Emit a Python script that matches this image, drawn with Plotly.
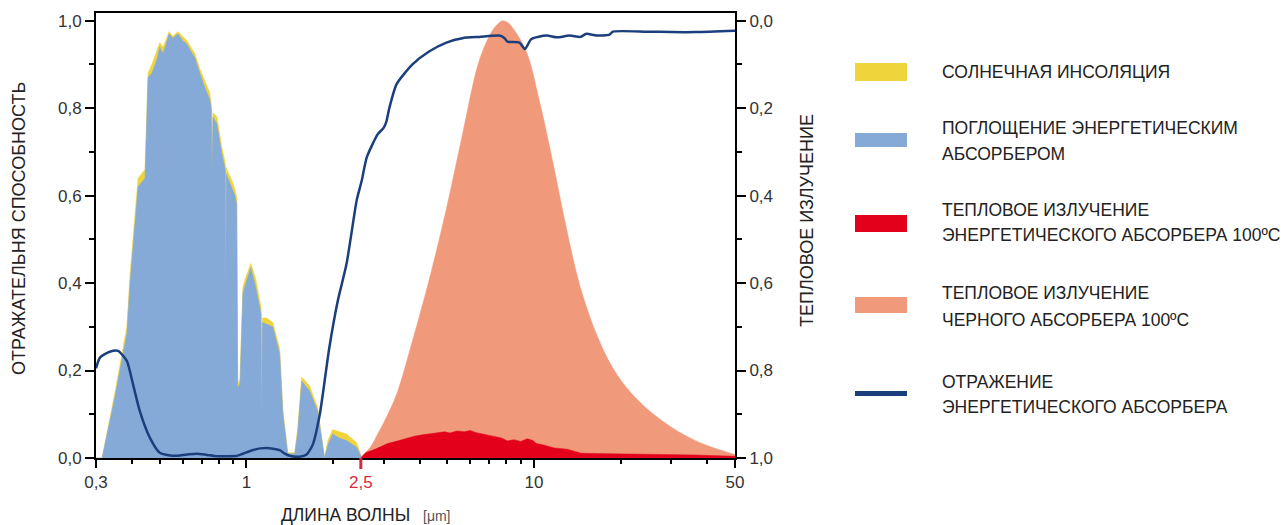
import numpy as np
import plotly.graph_objects as go

# ---------------- data ----------------
absorbed_x = [0.30, 0.315, 0.349, 0.384, 0.394, 0.41, 0.42, 0.444, 0.455, 0.469, 0.488, 0.50, 0.512, 0.525,
              0.538, 0.555, 0.578, 0.60, 0.621, 0.641, 0.662, 0.689, 0.717, 0.746, 0.755, 0.76, 0.765, 0.79,
              0.822, 0.845, 0.848, 0.851, 0.862, 0.89, 0.912, 0.926, 0.933, 0.95, 0.972, 0.985, 1.036, 1.078,
              1.113, 1.125, 1.13, 1.136, 1.178, 1.236, 1.306, 1.34, 1.393, 1.473, 1.509, 1.557, 1.66, 1.77,
              1.87, 1.92, 1.995, 2.11, 2.23, 2.42, 2.52]
absorbed_y = [0.0, 0.0, 0.14, 0.284, 0.40, 0.54, 0.62, 0.64, 0.87, 0.88, 0.91, 0.94, 0.925, 0.945,
              0.97, 0.96, 0.97, 0.955, 0.947, 0.93, 0.915, 0.88, 0.847, 0.82, 0.80, 0.66, 0.78, 0.764,
              0.695, 0.66, 0.37, 0.65, 0.64, 0.62, 0.60, 0.58, 0.16, 0.17, 0.375, 0.39, 0.435, 0.39,
              0.343, 0.33, 0.078, 0.31, 0.306, 0.30, 0.238, 0.10, 0.01, 0.01, 0.06, 0.176, 0.153, 0.107,
              0.0, 0.03, 0.055, 0.045, 0.04, 0.024, 0.0]
solar_y = [0.0, 0.0, 0.15, 0.30, 0.42, 0.56, 0.64, 0.66, 0.88, 0.90, 0.93, 0.95, 0.94, 0.955,
           0.975, 0.965, 0.975, 0.965, 0.955, 0.94, 0.925, 0.89, 0.86, 0.835, 0.81, 0.68, 0.79, 0.78,
           0.71, 0.675, 0.38, 0.665, 0.655, 0.635, 0.615, 0.595, 0.17, 0.18, 0.39, 0.405, 0.445, 0.41,
           0.36, 0.345, 0.085, 0.32, 0.32, 0.31, 0.25, 0.11, 0.012, 0.012, 0.07, 0.185, 0.165, 0.115,
           0.0, 0.04, 0.065, 0.06, 0.055, 0.035, 0.0]

black_x = [2.5, 2.7, 2.86, 3.05, 3.33, 3.78, 4.33, 4.96, 5.64, 6.46, 7.16, 7.5, 7.77, 8.1, 8.4, 9.4, 10.44,
           11.6, 12.95, 14.4, 16.5, 18.8, 21.96, 27.9, 36.6, 50]
black_y = [0.003, 0.025, 0.055, 0.09, 0.146, 0.268, 0.41, 0.57, 0.74, 0.91, 0.977, 0.993, 1.0, 0.996, 0.985,
           0.93, 0.817, 0.68, 0.527, 0.397, 0.283, 0.206, 0.146, 0.085, 0.039, 0.008]

absorber_em_x = [2.5, 2.6, 2.8, 3.1, 3.4, 3.84, 4.1, 4.3, 4.62, 4.9, 5.1, 5.4, 5.73, 6.0, 6.3, 6.89,
                 7.3, 7.7, 8.09, 8.5, 9.0, 9.49, 9.9, 10.2, 10.8, 11.76, 13.06, 14.6, 18, 26.2, 36, 50]
absorber_em_y = [0.0, 0.012, 0.02, 0.033, 0.04, 0.05, 0.053, 0.055, 0.057, 0.06, 0.057, 0.062, 0.06,
                 0.063, 0.058, 0.053, 0.05, 0.046, 0.039, 0.042, 0.038, 0.044, 0.04, 0.033, 0.03, 0.023,
                 0.02, 0.011, 0.01, 0.009, 0.007, 0.004]

refl_x = [0.30, 0.31, 0.335, 0.358, 0.384, 0.403, 0.426, 0.462, 0.50, 0.555, 0.62, 0.673, 0.73, 0.79,
          0.86, 0.93, 1.03, 1.12, 1.178, 1.24, 1.306, 1.36, 1.415, 1.53, 1.62, 1.70, 1.80, 1.94, 2.08,
          2.23, 2.42, 2.52, 2.62, 2.86, 3.0, 3.07, 3.14, 3.33, 3.78, 4.33, 4.96, 5.64, 6.46, 7.58, 7.9,
          8.08, 8.9, 9.3, 9.79, 11.05, 12.0, 13.3, 14.5, 15.2, 16.5, 18.3, 18.8, 24.6, 30.0, 36.6, 50]
refl_y = [0.205, 0.23, 0.243, 0.245, 0.222, 0.17, 0.107, 0.046, 0.012, 0.005, 0.008, 0.01, 0.007, 0.004,
          0.004, 0.005, 0.016, 0.022, 0.023, 0.021, 0.018, 0.01, 0.005, 0.003, 0.008, 0.03, 0.10, 0.25, 0.36,
          0.444, 0.59, 0.635, 0.687, 0.74, 0.755, 0.77, 0.80, 0.855, 0.90, 0.93, 0.95, 0.96, 0.963, 0.966, 0.96,
          0.952, 0.95, 0.935, 0.958, 0.966, 0.962, 0.966, 0.963, 0.97, 0.966, 0.968, 0.975, 0.975, 0.974, 0.974, 0.977]

x_tickvals = [0.3, 1, 2.5, 10, 50]
x_ticktext = ['0,3', '1', '<span style="color:#d22d3f">2,5</span>', '10', '50']
x_minor = [0.4, 0.5, 0.6, 0.7, 0.8, 0.9, 2, 3, 4, 5, 6, 7, 8, 9, 20, 30, 40]
y_tickvals = [0, 0.2, 0.4, 0.6, 0.8, 1.0]
y_ticktext = ['0,0', '0,2', '0,4', '0,6', '0,8', '1,0']
y_minor = [0.1, 0.3, 0.5, 0.7, 0.9]

legend_labels = [
    ['СОЛНЕЧНАЯ ИНСОЛЯЦИЯ'],
    ['ПОГЛОЩЕНИЕ ЭНЕРГЕТИЧЕСКИМ', 'АБСОРБЕРОМ'],
    ['ТЕПЛОВОЕ ИЗЛУЧЕНИЕ', 'ЭНЕРГЕТИЧЕСКОГО АБСОРБЕРА 100ºC'],
    ['ТЕПЛОВОЕ ИЗЛУЧЕНИЕ', 'ЧЕРНОГО АБСОРБЕРА 100ºC'],
    ['ОТРАЖЕНИЕ', 'ЭНЕРГЕТИЧЕСКОГО АБСОРБЕРА'],
]

# ---------------- styles ----------------
YELLOW = '#EFD43C'
BLUE = '#86AAD8'
RED = '#E2001A'
ORANGE = '#F09A7B'
NAVY = '#1B3F7C'
FONT = 'Liberation Sans, Arial, sans-serif'

W, H = 1283, 525
L, R, T, B = 96, 735, 13, 458


def px(xp):
    return (xp - L) / (R - L)


def py(yp):
    return (B - yp) / (B - T)


fig = go.Figure()
fig.add_trace(go.Scatter(x=absorbed_x, y=solar_y, mode='lines', fill='tozeroy',
                         line=dict(color=YELLOW, width=0.5), fillcolor=YELLOW, showlegend=False))
fig.add_trace(go.Scatter(x=absorbed_x, y=absorbed_y, mode='lines', fill='tozeroy',
                         line=dict(color=BLUE, width=0.5), fillcolor=BLUE, showlegend=False))
fig.add_trace(go.Scatter(x=black_x, y=black_y, mode='lines', fill='tozeroy', line_shape='spline',
                         line=dict(color=ORANGE, width=0.5), fillcolor=ORANGE, showlegend=False))
fig.add_trace(go.Scatter(x=absorber_em_x, y=absorber_em_y, mode='lines', fill='tozeroy',
                         line=dict(color=RED, width=0.5), fillcolor=RED, showlegend=False))
fig.add_trace(go.Scatter(x=refl_x, y=refl_y, mode='lines', line_shape='spline',
                         line=dict(color=NAVY, width=2.5, smoothing=0.6), showlegend=False))
fig.add_trace(go.Scatter(x=[None], y=[None], yaxis='y2', showlegend=False, hoverinfo='skip'))

ymax = (B - T) / 437.3

tickfont = dict(family=FONT, size=17, color='#333')
fig.update_layout(
    width=W, height=H,
    margin=dict(l=L, r=W - R, t=T, b=H - B),
    plot_bgcolor='white', paper_bgcolor='white',
    font=dict(family=FONT, color='#222'),
    showlegend=False,
    xaxis=dict(type='log', range=[np.log10(0.3), np.log10(50)], tickvals=x_tickvals, ticktext=x_ticktext,
               ticks='outside', ticklen=8, tickwidth=1.5, tickcolor='black', showgrid=False, zeroline=False,
               showline=True, linecolor='black', linewidth=2, mirror=True, tickfont=tickfont,
               minor=dict(tickvals=x_minor, ticks='outside', ticklen=4, tickwidth=1.5, tickcolor='black',
                          showgrid=False)),
    yaxis=dict(range=[0, ymax], tickvals=y_tickvals, ticktext=y_ticktext, ticks='outside', ticklen=9,
               tickwidth=1.5, tickcolor='black', showgrid=False, zeroline=False, showline=True,
               linecolor='black', linewidth=2, tickfont=tickfont,
               minor=dict(tickvals=y_minor, ticks='outside', ticklen=5, tickwidth=1.5, tickcolor='black',
                          showgrid=False)),
    yaxis2=dict(overlaying='y', side='right', range=[1.0, 1.0 - ymax], tickvals=y_tickvals,
                ticktext=y_ticktext, ticks='outside', ticklen=9, tickwidth=1.5, tickcolor='black',
                showgrid=False, zeroline=False, showline=True, linecolor='black', linewidth=2,
                tickfont=tickfont,
                minor=dict(tickvals=y_minor, ticks='outside', ticklen=5, tickwidth=1.5, tickcolor='black',
                           showgrid=False)),
)

# red tick at 2,5
x25 = (np.log10(2.5) - np.log10(0.3)) / (np.log10(50) - np.log10(0.3))
fig.add_shape(type='line', xref='paper', yref='paper', x0=x25, x1=x25, y0=0, y1=-11 / (B - T),
              line=dict(color='#d22d3f', width=3))

annotations = []
# axis titles
annotations.append(dict(text='ОТРАЖАТЕЛЬНЯ СПОСОБНОСТЬ', xref='paper', yref='paper', x=px(19), y=py(229),
                        textangle=-90, showarrow=False, font=dict(size=18, family=FONT, color='#222'),
                        xanchor='center', yanchor='middle'))
annotations.append(dict(text='ТЕПЛОВОЕ ИЗЛУЧЕНИЕ', xref='paper', yref='paper', x=px(807), y=py(221),
                        textangle=-90, showarrow=False, font=dict(size=18, family=FONT, color='#222'),
                        xanchor='center', yanchor='middle'))
annotations.append(dict(text='ДЛИНА ВОЛНЫ', xref='paper', yref='paper', x=px(412), y=py(515),
                        showarrow=False, font=dict(size=17.5, family=FONT, color='#222'),
                        xanchor='right', yanchor='middle'))
annotations.append(dict(text='[μm]', xref='paper', yref='paper', x=px(421), y=py(516),
                        showarrow=False, font=dict(size=14, family=FONT, color='#555'),
                        xanchor='left', yanchor='middle'))

# legend (manual)
swatches = [
    (YELLOW, 63, 81, [72]),
    (BLUE, 133, 147, [128, 154]),
    (RED, 215, 232, [210, 235]),
    (ORANGE, 297, 313, [293, 320]),
    (NAVY, 391, 396, [382, 407]),
]
for (col, y0, y1, ty), labels in zip(swatches, legend_labels):
    fig.add_shape(type='rect', xref='paper', yref='paper', x0=px(855), x1=px(907), y0=py(y1), y1=py(y0),
                  fillcolor=col, line=dict(width=0))
    for t, lab in zip(ty, labels):
        annotations.append(dict(text=lab, xref='paper', yref='paper', x=px(940), y=py(t), showarrow=False,
                                xanchor='left', yanchor='middle',
                                font=dict(size=17.5, family=FONT, color='#222')))

fig.update_layout(annotations=annotations)
fig.write_html('out.html', config={'displayModeBar': False})

# remove the default page margin so the figure sits at the window's top-left corner
with open('out.html', encoding='utf-8') as f:
    html = f.read()
html = html.replace('<head>', '<head><style>html,body{margin:0;padding:0;overflow:hidden}</style>', 1)
with open('out.html', 'w', encoding='utf-8') as f:
    f.write(html)
